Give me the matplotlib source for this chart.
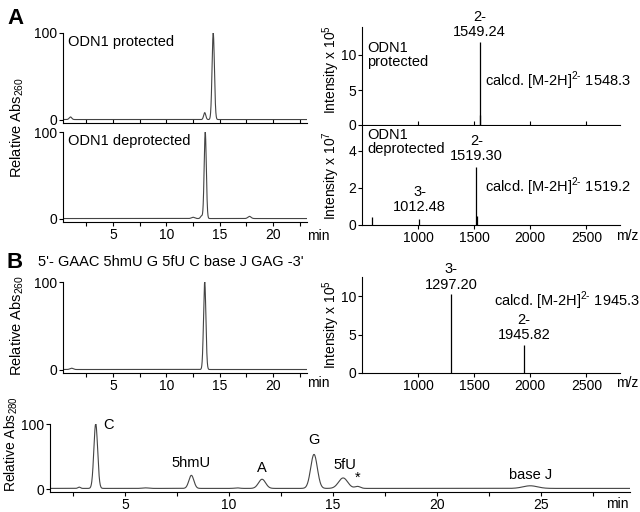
import numpy as np
import matplotlib
matplotlib.use("Agg")
from matplotlib import pyplot as plt

plt.rcParams['font.family'] = ['Liberation Sans', 'DejaVu Sans']
plt.rcParams['font.size'] = 10
plt.rcParams['mathtext.fontset'] = 'custom'
plt.rcParams['mathtext.rm'] = 'Liberation Sans'

# HPLC peaks: retention time (min), height (%), width (min)
prot_rt = [1.0, 13.6, 14.4]
prot_h = [3, 8, 100]
prot_w = [0.12, 0.1, 0.11]

deprot_rt = [12.5, 13.3, 13.65, 17.8]
deprot_h = [1.5, 3, 100, 2.5]
deprot_w = [0.15, 0.1, 0.1, 0.15]

b_rt = [1.1, 13.6]
b_h = [1.5, 100]
b_w = [0.15, 0.11]

nuc_rt = [2.8, 3.6, 6.0, 8.2, 10.4, 11.6, 14.1, 15.5, 16.2, 24.5]
nuc_h = [2, 99, 0.8, 20, 0.8, 14, 52, 16, 3, 4]
nuc_w = [0.06, 0.09, 0.15, 0.12, 0.12, 0.17, 0.16, 0.22, 0.13, 0.35]
nuc_labels = ['C', '5hmU', 'A', 'G', '5fU', '*', 'base J']
nuc_label_x = [4.2, 8.2, 11.6, 14.1, 15.6, 16.2, 24.5]
nuc_label_y = [88, 30, 22, 65, 26, 7, 12]

# MS peaks: m/z, intensity
prot_mz = [1549.24, 1553.0]
prot_int = [11.8, 1.4]
deprot_mz = [590.0, 1012.48, 1519.30, 1523.0]
deprot_int = [0.45, 0.35, 3.15, 0.5]
b_mz = [1297.20, 1945.82]
b_int = [10.3, 3.6]

W, H = 640, 512
fig = plt.figure(figsize=(6.4, 5.12), dpi=100)


def box(l, t, r, b):
    return [l / W, 1 - b / H, (r - l) / W, (b - t) / H]


def trace(rt, h, w, t, base=0.0):
    y = np.full_like(t, base)
    for c, a, s in zip(rt, h, w):
        y += a * np.exp(-0.5 * ((t - c) / s) ** 2)
    return y


def style(ax):
    for s in ['top', 'right']:
        ax.spines[s].set_visible(False)
    for s in ['left', 'bottom']:
        ax.spines[s].set_linewidth(0.8)
    ax.tick_params(length=3, width=0.8, pad=1, labelsize=10)


def chrom(ax, rt, h, w, xlim, base=0.0):
    t = np.linspace(xlim[0], xlim[1], 3000)
    ax.plot(t, trace(rt, h, w, t, base), color='#444444', lw=0.8)
    ax.set_xlim(*xlim)
    ax.set_ylim(-4, 100)
    ax.set_yticks([0, 100])
    style(ax)


def spec(ax, mz, inten, ylim, yticks):
    ax.vlines(mz, 0, inten, color='black', lw=0.9)
    ax.set_xlim(500, 2800)
    ax.set_ylim(*ylim)
    ax.set_yticks(yticks)
    ax.set_xticks([1000, 1500, 2000, 2500])
    style(ax)


# panel A, HPLC
ax1 = fig.add_axes(box(63, 33, 307, 123))
chrom(ax1, prot_rt, prot_h, prot_w, (0.3, 23.2))
ax1.set_xticks(np.arange(2.5, 23, 2.5))
ax1.tick_params(axis='x', direction='in', labelbottom=False)
ax1.text(0.02, 0.98, 'ODN1 protected', transform=ax1.transAxes, va='top', fontsize=10.5)

ax2 = fig.add_axes(box(63, 132, 307, 222))
chrom(ax2, deprot_rt, deprot_h, deprot_w, (0.3, 23.2))
ax2.set_xticks(np.arange(2.5, 23, 2.5))
ax2.set_xticklabels(['' if v % 5 else str(int(v)) for v in np.arange(2.5, 23, 2.5)])
ax2.text(0.02, 0.98, 'ODN1 deprotected', transform=ax2.transAxes, va='top', fontsize=10.5)
fig.text(318 / W, 1 - 236 / H, 'min', ha='center', va='center')
fig.text(17 / W, 1 - 128 / H, 'Relative Abs$_{260}$', rotation=90, ha='center', va='center', fontsize=10.5)

# panel A, MS
ax3 = fig.add_axes(box(362, 27, 620, 125))
spec(ax3, prot_mz, prot_int, (0, 14), [0, 5, 10])
ax3.tick_params(axis='x', direction='in', labelbottom=False)
ax3.text(0.02, 0.86, 'ODN1\nprotected', transform=ax3.transAxes, va='top', fontsize=10.5, linespacing=1.0)
ax3.text(prot_mz[0], 12.3, '2-\n1549.24', ha='center', va='bottom', fontsize=10.5, linespacing=1.1)
ax3.text(1600, 5.5, 'calcd. [M-2H]$^{2\u2010}$ 1548.3', fontsize=10.5)
fig.text(331 / W, 1 - 70 / H, 'Intensity x 10$^5$', rotation=90, ha='center', va='center', fontsize=10)

ax4 = fig.add_axes(box(362, 126, 620, 225))
spec(ax4, deprot_mz, deprot_int, (0, 5.35), [0, 2, 4])
ax4.text(0.02, 0.98, 'ODN1\ndeprotected', transform=ax4.transAxes, va='top', fontsize=10.5, linespacing=1.0)
ax4.text(deprot_mz[2], 3.35, '2-\n1519.30', ha='center', va='bottom', fontsize=10.5, linespacing=1.1)
ax4.text(deprot_mz[1], 0.6, '3-\n1012.48', ha='center', va='bottom', fontsize=10.5, linespacing=1.1)
ax4.text(1600, 1.8, 'calcd. [M-2H]$^{2\u2010}$ 1519.2', fontsize=10.5)
fig.text(627 / W, 1 - 236 / H, 'm/z', ha='center', va='center')
fig.text(331 / W, 1 - 176 / H, 'Intensity x 10$^7$', rotation=90, ha='center', va='center', fontsize=10)

# panel B
fig.text(15 / W, 1 - 18 / H, 'A', fontsize=16, fontweight='bold', ha='center', va='center')
fig.text(15 / W, 1 - 262 / H, 'B', fontsize=16, fontweight='bold', ha='center', va='center')
fig.text(38 / W, 1 - 262 / H, "5'- GAAC 5hmU G 5fU C base J GAG -3'", fontsize=10.5, va='center')

ax5 = fig.add_axes(box(63, 282, 307, 373))
chrom(ax5, b_rt, b_h, b_w, (0.3, 23.2))
ax5.set_xticks(np.arange(2.5, 23, 2.5))
ax5.set_xticklabels(['' if v % 5 else str(int(v)) for v in np.arange(2.5, 23, 2.5)])
fig.text(318 / W, 1 - 383 / H, 'min', ha='center', va='center')
fig.text(17 / W, 1 - 326 / H, 'Relative Abs$_{260}$', rotation=90, ha='center', va='center', fontsize=10.5)

ax6 = fig.add_axes(box(362, 277, 620, 373))
spec(ax6, b_mz, b_int, (0, 12.5), [0, 5, 10])
ax6.text(b_mz[0], 10.6, '3-\n1297.20', ha='center', va='bottom', fontsize=10.5, linespacing=1.1)
ax6.text(1680, 8.7, 'calcd. [M-2H]$^{2\u2010}$ 1945.3', fontsize=10.5)
ax6.text(b_mz[1], 4.0, '2-\n1945.82', ha='center', va='bottom', fontsize=10.5, linespacing=1.1)
fig.text(627 / W, 1 - 383 / H, 'm/z', ha='center', va='center')
fig.text(331 / W, 1 - 325 / H, 'Intensity x 10$^5$', rotation=90, ha='center', va='center', fontsize=10)

# nucleoside digest
ax7 = fig.add_axes(box(50, 424, 630, 492))
chrom(ax7, nuc_rt, nuc_h, nuc_w, (1.4, 29.3), base=1.5)
ax7.set_xticks(np.arange(2.5, 29.5, 2.5))
ax7.set_xticklabels(['' if v % 5 else str(int(v)) for v in np.arange(2.5, 29.5, 2.5)])
for lab, x, y in zip(nuc_labels, nuc_label_x, nuc_label_y):
    ax7.text(x, y, lab, ha='center', va='bottom', fontsize=10.5)
fig.text(617 / W, 1 - 504 / H, 'min', ha='center', va='center')
fig.text(11 / W, 1 - 444 / H, 'Relative Abs$_{280}$', rotation=90, ha='center', va='center', fontsize=10)

fig.savefig('out.png', dpi=100)
